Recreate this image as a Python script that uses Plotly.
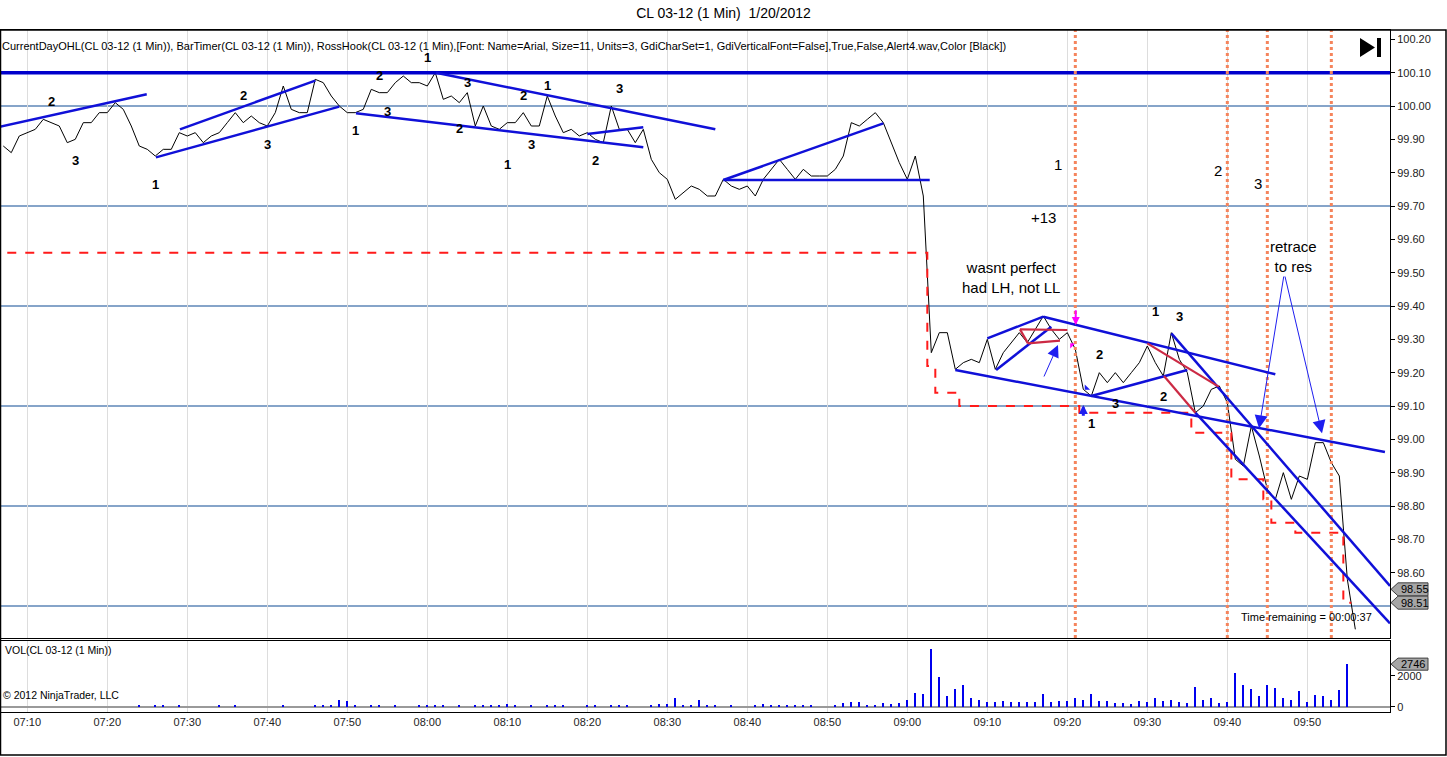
import pandas as pd
import plotly.graph_objects as go

day = "2012-01-20 "

# closes of the 1 min bars, 07:07 .. 09:56
close_start = "07:07"
close = [99.88, 99.86, 99.91, 99.92, 99.93, 99.96, 99.95, 99.94, 99.89, 99.90,
         99.95, 99.95, 99.98, 99.98, 100.01, 99.99, 99.94, 99.88, 99.87, 99.85,
         99.87, 99.87, 99.92, 99.91, 99.92, 99.89, 99.91, 99.92, 99.95, 99.98,
         99.95, 99.97, 99.95, 99.94, 99.98, 100.06, 99.99, 99.98, 99.98, 100.08,
         100.07, 100.03, 100.00, 99.98, 99.98, 99.99, 100.05, 100.04, 100.04, 100.07,
         100.09, 100.07, 100.07, 100.06, 100.10, 100.02, 100.03, 100.01, 100.04, 99.94,
         100.00, 99.94, 99.93, 99.95, 99.95, 99.98, 99.94, 99.94, 100.03, 99.97,
         99.92, 99.93, 99.91, 99.92, 99.90, 99.89, 100.00, 99.93, 99.93, 99.89,
         99.93, 99.84, 99.80, 99.78, 99.72, 99.74, 99.76, 99.75, 99.73, 99.73,
         99.78, 99.76, 99.75, 99.76, 99.73, 99.78, 99.81, 99.84, 99.81, 99.78,
         99.81, 99.79, 99.79, 99.79, 99.81, 99.85, 99.95, 99.94, 99.96, 99.98,
         99.95, 99.89, 99.83, 99.78, 99.85, 99.73, 99.26, 99.32, 99.32, 99.21,
         99.23, 99.24, 99.23, 99.30, 99.21, 99.26, 99.29, 99.32, 99.29, 99.33,
         99.37, 99.33, 99.30, 99.32, 99.27, 99.15, 99.13, 99.20, 99.17, 99.20,
         99.17, 99.20, 99.23, 99.28, 99.23, 99.19, 99.32, 99.24, 99.20, 99.08,
         99.10, 99.15, 99.16, 99.11, 98.94, 98.92, 99.04, 98.95, 98.85, 98.82,
         98.90, 98.82, 98.89, 98.88, 98.99, 98.99, 98.93, 98.89, 98.58, 98.43]

# volume per minute, 07:20 .. 09:55 (0 = no bar)
vol_start = "07:20"
volume = [0, 0, 0, 0, 130, 0, 100, 100, 0, 110,
          0, 0, 0, 0, 100, 0, 110, 0, 0, 0,
          0, 0, 100, 0, 0, 0, 100, 100, 110, 440,
          370, 110, 0, 130, 110, 0, 100, 0, 0, 100,
          110, 110, 100, 0, 130, 0, 130, 110, 110, 110,
          150, 100, 0, 100, 0, 100, 100, 100, 0, 0,
          130, 100, 0, 100, 110, 130, 0, 0, 100, 150,
          150, 540, 110, 110, 440, 110, 130, 0, 100, 0,
          0, 130, 200, 130, 100, 100, 100, 130, 100, 0,
          0, 100, 260, 330, 290, 100, 130, 260, 150, 260,
          460, 860, 790, 3700, 1910, 660, 1120, 1380, 530, 460,
          290, 330, 400, 290, 290, 290, 330, 790, 290, 400,
          350, 530, 460, 790, 350, 400, 220, 260, 200, 350,
          290, 590, 350, 460, 290, 220, 1250, 460, 530, 220,
          290, 2200, 1380, 1120, 660, 1380, 1190, 590, 460, 990,
          290, 730, 660, 460, 1050, 2746]

# CurrentDayOHL low (steps at bar edges)
low_times = ["07:07:30", "09:02:30", "09:03:30", "09:06:30", "09:21:30", "09:35:30",
             "09:40:30", "09:44:30", "09:45:30", "09:48:30", "09:54:30", "09:55:30"]
low_vals = [99.56, 99.22, 99.14, 99.10, 99.08, 99.02, 98.88, 98.82, 98.75, 98.72, 98.51, 98.51]

h_levels = [98.50, 98.80, 99.10, 99.40, 99.70, 100.00]
res_level = 100.10
event_times = ["09:21", "09:40", "09:45", "09:53"]

time_ticks = ["07:10", "07:20", "07:30", "07:40", "07:50", "08:00", "08:10", "08:20",
              "08:30", "08:40", "08:50", "09:00", "09:10", "09:20", "09:30", "09:40", "09:50"]
price_ticks = [98.6, 98.7, 98.8, 98.9, 99.0, 99.1, 99.2, 99.3, 99.4, 99.5, 99.6,
               99.7, 99.8, 99.9, 100.0, 100.1, 100.2]
price_tags = [98.55, 98.51]
vol_tag = 2746

# drawn trend lines: (t0, p0, t1, p1)
blue_lines = [
    ("07:06:35", 99.938, "07:24:56", 100.035),
    ("07:26:05", 99.846, "07:49:00", 99.998),
    ("07:29:05", 99.930, "07:46:00", 100.076),
    ("07:51:05", 99.978, "08:27:00", 99.876),
    ("08:01:05", 100.100, "08:36:00", 99.930),
    ("08:20:00", 99.916, "08:27:00", 99.936),
    ("08:37:00", 99.778, "09:02:48", 99.778),
    ("08:37:00", 99.778, "08:57:00", 99.948),
    ("09:06:00", 99.208, "09:59:42", 98.962),
    ("09:17:00", 99.368, "09:46:00", 99.195),
    ("09:10:00", 99.303, "09:17:00", 99.368),
    ("09:11:06", 99.208, "09:18:00", 99.338),
    ("09:23:00", 99.130, "09:35:00", 99.208),
    ("09:33:00", 99.318, "10:00:20", 98.560),
    ("09:36:00", 99.080, "10:00:20", 98.448),
]
red_lines = [
    ("09:14:05", 99.330, "09:20:00", 99.328),
    ("09:15:05", 99.288, "09:19:05", 99.296),
    ("09:14:05", 99.330, "09:15:05", 99.288),
    ("09:30:00", 99.288, "09:38:55", 99.158),
    ("09:32:05", 99.190, "09:36:00", 99.080),
]

# RossHook swing numbers
hooks = [("2", "07:13", 100.013), ("3", "07:16", 99.838), ("1", "07:26", 99.766),
         ("2", "07:37", 100.033), ("3", "07:40", 99.886), ("1", "07:51", 99.926),
         ("2", "07:54", 100.093), ("3", "07:55", 99.983), ("1", "08:00", 100.147),
         ("3", "08:05", 100.072), ("2", "08:04", 99.934), ("2", "08:12", 100.031),
         ("1", "08:15", 100.063), ("3", "08:13", 99.886), ("1", "08:10", 99.825),
         ("3", "08:24", 100.053), ("2", "08:21", 99.838), ("2", "09:24", 99.256),
         ("3", "09:26", 99.108), ("1", "09:23", 99.048), ("1", "09:31", 99.383),
         ("3", "09:34", 99.368), ("2", "09:32", 99.130)]

notes = [("1", "09:18:52", 99.826), ("+13", "09:17:00", 99.665),
         ("2", "09:38:52", 99.808), ("3", "09:43:52", 99.768),
         ("wasnt perfect<br>had LH, not LL", "09:13:00", 99.487),
         ("retrace<br>to res", "09:48:13", 99.549)]

# (head time, head price, tail time, tail price, color, line width, head size)
arrows = [
    ("09:43:58", 99.033, "09:47:05", 99.493, "#1e1ef0", 1, 2.6),
    ("09:51:50", 99.018, "09:47:10", 99.493, "#1e1ef0", 1, 2.6),
    ("09:18:50", 99.283, "09:17:00", 99.184, "#1e1ef0", 1, 2.4),
    ("09:21:03", 99.343, "09:21:03", 99.392, "#ff00ff", 2, 0.8),
    ("09:22:00", 99.103, "09:22:00", 99.066, "#1e1ef0", 3, 0.6),
]

W, H = 1447, 757
ML, MR, MT, MB = 1, 57, 30, 45
FONT = "Liberation Sans, Arial, sans-serif"


def t(s):
    return day + s


def px_x(px):
    return (px - ML) / (W - ML - MR)


def px_y(py):
    return (H - MB - py) / (H - MT - MB)


close_x = pd.date_range(t(close_start), periods=len(close), freq="min")
vol_x = pd.date_range(t(vol_start), periods=len(volume), freq="min")

fig = go.Figure()
fig.add_trace(go.Scatter(x=close_x, y=close, mode="lines",
                         line=dict(color="black", width=1), xaxis="x", yaxis="y"))
fig.add_trace(go.Scatter(x=[t(s) for s in low_times], y=low_vals, mode="lines",
                         line=dict(color="#ff1a1a", width=2, dash="dash", shape="hv"),
                         xaxis="x", yaxis="y"))
fig.add_trace(go.Scatter(x=[t("09:20:35"), t("09:22:24")], y=[99.283, 99.154], mode="markers",
                         marker=dict(symbol=["triangle-nw", "triangle-sw"], size=6,
                                     color=["#ff00ff", "#1e1ef0"]),
                         xaxis="x", yaxis="y"))
fig.add_trace(go.Bar(x=vol_x, y=volume, marker_color="#0000ee", marker_line_width=0,
                     width=16000, xaxis="x2", yaxis="y2"))

shapes = []
for lv in h_levels:
    shapes.append(dict(type="line", xref="x domain", yref="y", x0=0, x1=1, y0=lv, y1=lv,
                       line=dict(color="#0f4a94", width=1.2), layer="below"))
shapes.append(dict(type="line", xref="x domain", yref="y", x0=0, x1=1, y0=res_level, y1=res_level,
                   line=dict(color="#0000cc", width=3.5)))
for et in event_times:
    shapes.append(dict(type="line", xref="x", yref="y domain", x0=t(et), x1=t(et), y0=0, y1=1,
                       line=dict(color="#f5845c", width=3, dash="dot")))
for t0, p0, t1, p1 in blue_lines:
    shapes.append(dict(type="line", xref="x", yref="y", x0=t(t0), y0=p0, x1=t(t1), y1=p1,
                       line=dict(color="#1010d8", width=2.5)))
for t0, p0, t1, p1 in red_lines:
    shapes.append(dict(type="line", xref="x", yref="y", x0=t(t0), y0=p0, x1=t(t1), y1=p1,
                       line=dict(color="#cc2a44", width=2.2)))

# last value tags on the right axes
def tag_path(yc, half):
    a, b, c = px_x(1391), px_x(1398), px_x(1428)
    return (f"M {a},{yc} L {b},{yc + half} L {c},{yc + half} "
            f"L {c},{yc - half} L {b},{yc - half} Z")


for pt in price_tags:
    shapes.append(dict(type="path", xref="paper", yref="y", path=tag_path(pt, 0.0195),
                       fillcolor="#a6a6a6", line=dict(color="#404040", width=1)))
shapes.append(dict(type="path", xref="paper", yref="y2", path=tag_path(vol_tag, 390),
                   fillcolor="#a6a6a6", line=dict(color="#404040", width=1)))

# go-live icon and outer frame
shapes.append(dict(type="path", xref="paper", yref="paper", fillcolor="black", line_width=0,
                   path=f"M {px_x(1360)},{px_y(38)} L {px_x(1360)},{px_y(57)} "
                        f"L {px_x(1375)},{px_y(47.5)} Z"))
shapes.append(dict(type="rect", xref="paper", yref="paper", fillcolor="black", line_width=0,
                   x0=px_x(1377), x1=px_x(1381), y0=px_y(57), y1=px_y(38)))
shapes.append(dict(type="rect", xref="paper", yref="paper", x0=px_x(0.5), x1=px_x(1446),
                   y0=px_y(755), y1=px_y(30), line=dict(color="black", width=1.5)))

annotations = []
for txt, tm, pr in hooks:
    annotations.append(dict(text=f"<b>{txt}</b>", x=t(tm), y=pr, xref="x", yref="y",
                            showarrow=False, borderpad=0,
                            font=dict(family=FONT, size=13, color="black")))
for txt, tm, pr in notes:
    annotations.append(dict(text=txt, x=t(tm), y=pr, xref="x", yref="y", showarrow=False,
                            font=dict(family=FONT, size=15, color="black")))
for ht, hp, tt, tp, col, wd, sz in arrows:
    annotations.append(dict(text="", x=t(ht), y=hp, ax=t(tt), ay=tp, xref="x", yref="y",
                            axref="x", ayref="y", showarrow=True, arrowhead=2,
                            arrowcolor=col, arrowwidth=wd, arrowsize=sz))
for pt in price_tags:
    annotations.append(dict(text=f"{pt:.2f}", xref="paper", yref="y", x=px_x(1399), y=pt,
                            xanchor="left", showarrow=False,
                            font=dict(family=FONT, size=11, color="black")))
annotations.append(dict(text=str(vol_tag), xref="paper", yref="y2", x=px_x(1399), y=vol_tag,
                        xanchor="left", showarrow=False,
                        font=dict(family=FONT, size=11, color="black")))
annotations.append(dict(text="CurrentDayOHL(CL 03-12 (1 Min)), BarTimer(CL 03-12 (1 Min)), "
                             "RossHook(CL 03-12 (1 Min),[Font: Name=Arial, Size=11, Units=3, "
                             "GdiCharSet=1, GdiVerticalFont=False],True,False,Alert4.wav,Color [Black])",
                        xref="paper", yref="paper", x=px_x(1), y=px_y(38.5), xanchor="left",
                        showarrow=False, borderpad=0,
                        font=dict(family=FONT, size=11, color="black")))
annotations.append(dict(text="Time remaining = 00:00:37", xref="paper", yref="paper",
                        x=px_x(1374), y=px_y(625), xanchor="right", showarrow=False,
                        font=dict(family=FONT, size=11, color="black")))
annotations.append(dict(text="VOL(CL 03-12 (1 Min))", xref="paper", yref="paper",
                        x=px_x(3), y=px_y(658), xanchor="left", showarrow=False,
                        font=dict(family=FONT, size=10.5, color="black")))
annotations.append(dict(text="© 2012 NinjaTrader, LLC", xref="paper", yref="paper",
                        x=px_x(1), y=px_y(703), xanchor="left", showarrow=False,
                        font=dict(family=FONT, size=10.5, color="black")))

x_range = [t("07:06:43"), t("10:00:20")]
xcommon = dict(type="date", range=x_range, showgrid=True, gridcolor="#dddddd", gridwidth=1,
               tickvals=[t(s) for s in time_ticks], ticktext=time_ticks, zeroline=False,
               showline=True, linecolor="black", linewidth=1, mirror=True, ticks="")

fig.update_layout(
    width=W, height=H,
    margin=dict(l=ML, r=MR, t=MT, b=MB, autoexpand=False),
    paper_bgcolor="white", plot_bgcolor="white",
    showlegend=False, bargap=0,
    title=dict(text="CL 03-12 (1 Min) \u00a01/20/2012", x=0.5, xanchor="center",
               y=1 - 13 / H, yanchor="middle", font=dict(family=FONT, size=14, color="black")),
    xaxis=dict(xcommon, domain=[0, 1], anchor="y", showticklabels=False),
    yaxis=dict(domain=[px_y(638), 1], anchor="x", side="right", range=[98.404, 100.228],
               tickvals=price_ticks, tickformat=".2f", showgrid=False, zeroline=False,
               ticks="outside", ticklen=4, tickcolor="black", showline=True, linecolor="black",
               mirror=True, tickfont=dict(family=FONT, size=11, color="#222")),
    xaxis2=dict(xcommon, domain=[0, 1], anchor="y2", matches="x", showticklabels=True,
                tickfont=dict(family=FONT, size=11, color="#222")),
    yaxis2=dict(domain=[0, px_y(641)], anchor="x2", side="right", range=[-342, 4239],
                tickvals=[0, 2000], showgrid=False, zeroline=True, zerolinecolor="#9a9a9a",
                zerolinewidth=1.5, ticks="outside", ticklen=4, tickcolor="black",
                showline=True, linecolor="black", mirror=True,
                tickfont=dict(family=FONT, size=11, color="#222")),
    shapes=shapes,
    annotations=annotations,
)

# page body has a default 8px margin; drop it so the figure sits at the window corner
fig.write_html("out.html", config={"displayModeBar": False},
               post_script="document.body.style.margin='0';")
